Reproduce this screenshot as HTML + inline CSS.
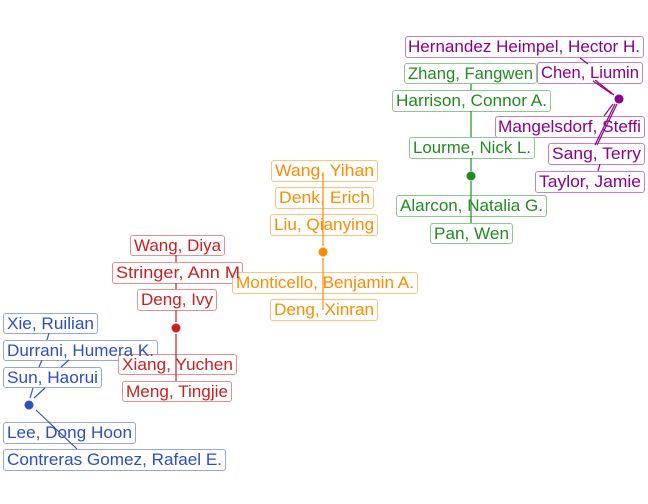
<!DOCTYPE html>
<html><head><meta charset="utf-8"><style>
html,body{margin:0;padding:0;background:#fff;}
svg{display:block;}
text{font-family:"Liberation Sans",Arial,sans-serif;font-size:16.5px;}
</style></head><body>
<svg width="648" height="504" viewBox="0 0 648 504" xmlns="http://www.w3.org/2000/svg">
<g stroke-width="1" fill="#fff">
<g stroke="#c77fc7">
<rect x="405.5" y="36.5" width="238" height="21" rx="2.5"/>
<rect x="495.5" y="116.5" width="149" height="21" rx="2.5"/>
<rect x="548.5" y="143.5" width="96" height="21" rx="2.5"/>
<rect x="535.5" y="171.5" width="109" height="21" rx="2.5"/>
</g>
<g stroke="#8cc98c">
<rect x="404.5" y="63.5" width="132" height="20" rx="2.5"/>
<rect x="392.5" y="90.5" width="158" height="21" rx="2.5"/>
<rect x="409.5" y="137.5" width="125" height="21" rx="2.5"/>
<rect x="396.5" y="195.5" width="150" height="21" rx="2.5"/>
<rect x="430.5" y="223.5" width="82" height="20" rx="2.5"/>
</g>
<rect x="537.5" y="62.5" width="105" height="21" rx="2.5" stroke="#c77fc7"/>
<g stroke="#ffc27f">
<rect x="271.5" y="160.5" width="106" height="21" rx="2.5"/>
<rect x="275.5" y="187.5" width="98" height="21" rx="2.5"/>
<rect x="270.5" y="214.5" width="107" height="21" rx="2.5"/>
<rect x="270.5" y="299.5" width="107" height="21" rx="2.5"/>
</g>
<g stroke="#e89090">
<rect x="130.5" y="235.5" width="94" height="20" rx="2.5"/>
<rect x="112.5" y="262.5" width="130" height="21" rx="2.5"/>
<rect x="137.5" y="289.5" width="79" height="21" rx="2.5"/>
<rect x="122.5" y="381.5" width="109" height="20" rx="2.5"/>
</g>
<rect x="232.5" y="272.5" width="185" height="21" rx="2.5" stroke="#ffc27f"/>
<g stroke="#94a7de">
<rect x="3.5" y="313.5" width="94" height="20" rx="2.5"/>
<rect x="3.5" y="340.5" width="154" height="20" rx="2.5"/>
<rect x="3.5" y="367.5" width="98" height="20" rx="2.5"/>
<rect x="3.5" y="422.5" width="132" height="21" rx="2.5"/>
<rect x="3.5" y="449.5" width="222" height="21" rx="2.5"/>
</g>
<rect x="118.5" y="354.5" width="118" height="20" rx="2.5" stroke="#e89090"/>
</g>

<g stroke-width="1.2" fill="none">
<g stroke="#8b008b">
<line x1="614" y1="95" x2="595" y2="80"/>
<line x1="612" y1="94" x2="593" y2="81"/>
<line x1="613" y1="104" x2="604" y2="116"/>
<line x1="617" y1="104" x2="597" y2="145"/>
<line x1="615" y1="104" x2="595" y2="145"/>
<line x1="600" y1="164" x2="598" y2="171"/>
<line x1="580" y1="58" x2="588" y2="64"/>
</g>
<g stroke="#228b22">
<line x1="471" y1="84" x2="471" y2="90"/>
<line x1="471" y1="111" x2="471" y2="137"/>
<line x1="471" y1="158" x2="471" y2="171"/>
<line x1="471" y1="181" x2="471" y2="223"/>
</g>
<g stroke="#ff8c00">
<line x1="323" y1="172" x2="323" y2="246"/>
<line x1="323" y1="258" x2="323" y2="310"/>
</g>
<g stroke="#cd2020">
<line x1="176" y1="255" x2="176" y2="262"/>
<line x1="176" y1="283" x2="176" y2="289"/>
<line x1="176" y1="310" x2="176" y2="322"/>
<line x1="176" y1="334" x2="176" y2="381"/>
</g>
<g stroke="#3355bb">
<line x1="49" y1="333" x2="47" y2="340"/>
<line x1="42" y1="360" x2="39" y2="367"/>
<line x1="69" y1="360" x2="61" y2="367"/>
<line x1="33" y1="388" x2="30" y2="398"/>
<line x1="45" y1="388" x2="34" y2="398"/>
<line x1="36" y1="410" x2="77" y2="449"/>
</g>
</g>

<circle cx="619" cy="99" r="4.5" fill="#8b008b"/>
<circle cx="471" cy="176" r="4.5" fill="#228b22"/>
<circle cx="323" cy="252" r="4.5" fill="#ff8c00"/>
<circle cx="176" cy="328" r="4.5" fill="#cd2020"/>
<circle cx="29" cy="405" r="4.5" fill="#2d4fc0"/>

<g fill="#8b008b">
<text x="408" y="52" textLength="232" lengthAdjust="spacingAndGlyphs">Hernandez Heimpel, Hector H.</text>
<text x="541" y="78" textLength="98" lengthAdjust="spacingAndGlyphs">Chen, Liumin</text>
<text x="498" y="132" textLength="143" lengthAdjust="spacingAndGlyphs">Mangelsdorf, Steffi</text>
<text x="552" y="159" textLength="89" lengthAdjust="spacingAndGlyphs">Sang, Terry</text>
<text x="539" y="187" textLength="102" lengthAdjust="spacingAndGlyphs">Taylor, Jamie</text>
</g>
<g fill="#228b22">
<text x="408" y="79" textLength="125" lengthAdjust="spacingAndGlyphs">Zhang, Fangwen</text>
<text x="396" y="106" textLength="151" lengthAdjust="spacingAndGlyphs">Harrison, Connor A.</text>
<text x="413" y="153" textLength="118" lengthAdjust="spacingAndGlyphs">Lourme, Nick L.</text>
<text x="400" y="211" textLength="143" lengthAdjust="spacingAndGlyphs">Alarcon, Natalia G.</text>
<text x="434" y="239" textLength="75" lengthAdjust="spacingAndGlyphs">Pan, Wen</text>
</g>
<g fill="#ff8c00">
<text x="275" y="176" textLength="99" lengthAdjust="spacingAndGlyphs">Wang, Yihan</text>
<text x="279" y="203" textLength="91" lengthAdjust="spacingAndGlyphs">Denk, Erich</text>
<text x="274" y="230" textLength="100" lengthAdjust="spacingAndGlyphs">Liu, Qianying</text>
<text x="236" y="288" textLength="178" lengthAdjust="spacingAndGlyphs">Monticello, Benjamin A.</text>
<text x="274" y="315" textLength="100" lengthAdjust="spacingAndGlyphs">Deng, Xinran</text>
</g>
<g fill="#cd2020">
<text x="134" y="251" textLength="87" lengthAdjust="spacingAndGlyphs">Wang, Diya</text>
<text x="116" y="278" textLength="124" lengthAdjust="spacingAndGlyphs">Stringer, Ann M</text>
<text x="141" y="305" textLength="72" lengthAdjust="spacingAndGlyphs">Deng, Ivy</text>
<text x="122" y="370" textLength="111" lengthAdjust="spacingAndGlyphs">Xiang, Yuchen</text>
<text x="126" y="397" textLength="102" lengthAdjust="spacingAndGlyphs">Meng, Tingjie</text>
</g>
<g fill="#2d4fc0">
<text x="7" y="329" textLength="87" lengthAdjust="spacingAndGlyphs">Xie, Ruilian</text>
<text x="7" y="356" textLength="147" lengthAdjust="spacingAndGlyphs">Durrani, Humera K.</text>
<text x="7" y="383" textLength="91" lengthAdjust="spacingAndGlyphs">Sun, Haorui</text>
<text x="7" y="438" textLength="125" lengthAdjust="spacingAndGlyphs">Lee, Dong Hoon</text>
<text x="7" y="465" textLength="215" lengthAdjust="spacingAndGlyphs">Contreras Gomez, Rafael E.</text>
</g>
</svg>
</body></html>
